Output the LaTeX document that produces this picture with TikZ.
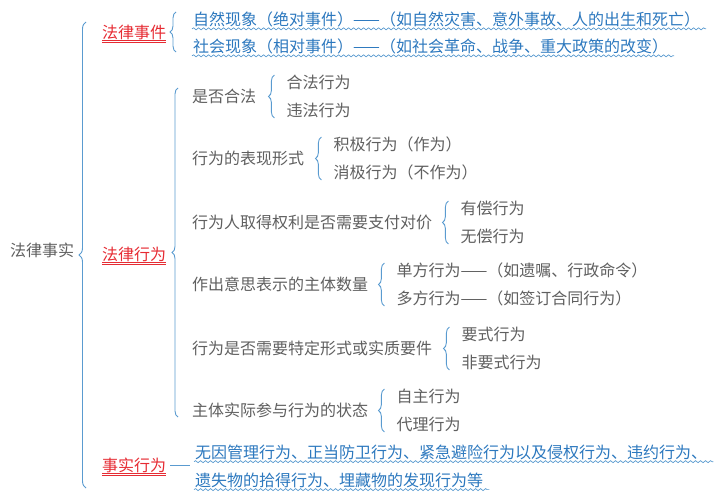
\documentclass[tikz,border=0pt]{standalone}
\usepackage{fontspec}
\setmainfont{Noto Sans CJK SC}
\usetikzlibrary{decorations.pathreplacing,decorations.pathmorphing,calc}
\definecolor{gtext}{HTML}{5F5F5F}
\definecolor{btext}{HTML}{2C78BE}
\definecolor{rtext}{HTML}{E62B33}
\definecolor{bline}{HTML}{5A9BD0}
\begin{document}
\begin{tikzpicture}[x=1pt,y=-1pt,
  every node/.style={inner sep=0pt,anchor=west,font=\fontsize{16}{19}\selectfont},
  gnode/.style={text=gtext},
  bnode/.style={text=btext},
  rnode/.style={text=rtext},
  br/.style={draw=bline,line width=0.9pt,decorate,decoration={brace,amplitude=6pt}},
  bigbr/.style={draw=bline,line width=0.9pt,decorate,decoration={brace,amplitude=7pt}},
  wavy/.style={draw=bline,line width=0.7pt,decorate,decoration={snake,segment length=5pt,amplitude=1pt}},
  dbl/.style={draw=rtext,line width=0.8pt},
  link/.style={draw=bline,line width=0.9pt}]
\useasboundingbox (0,0) rectangle (717,500);

% root and main branches
\node[gnode] (root) at (10,250) {法律事实};
\node[rnode] (ev) at (102,32) {法律事件};
\node[rnode] (act) at (102,254) {法律行为};
\node[rnode] (fact) at (102,465) {事实行为};
\draw[bigbr] ($(fact.west)+(-16,23)$) -- ($(ev.west)+(-16,-10)$);
\foreach \n in {ev,act,fact}{
  \draw[dbl] ($(\n.south west)+(0,1.2)$) -- ($(\n.south east)+(0,1.2)$);
  \draw[dbl] ($(\n.south west)+(0,3.2)$) -- ($(\n.south east)+(0,3.2)$);
}

% legal events
\node[bnode] (ev1) at (193,19) {自然现象（绝对事件）——（如自然灾害、意外事故、人的出生和死亡）};
\node[bnode] (ev2) at (193,46) {社会现象（相对事件）——（如社会革命、战争、重大政策的改变）};
\draw[br] ($(ev2.west)+(-17,6)$) -- ($(ev1.west)+(-17,-7)$);
\foreach \n in {ev1,ev2}{
  \draw[wavy] ($(\n.south west)+(-1,2)$) -- ($(\n.south east)+(6,2)$);
}

% legal acts
\node[gnode] (s1) at (192,96) {是否合法};
\node[gnode] (s2) at (192,158) {行为的表现形式};
\node[gnode] (s3) at (192,222) {行为人取得权利是否需要支付对价};
\node[gnode] (s4) at (192,284) {作出意思表示的主体数量};
\node[gnode] (s5) at (192,348) {行为是否需要特定形式或实质要件};
\node[gnode] (s6) at (192,410) {主体实际参与行为的状态};
\draw[br] ($(s6.west)+(-14,7)$) -- ($(s1.west)+(-14,-8)$);

\node[gnode] (s1a) at ($(s1.east)+(30,-14)$) {合法行为};
\node[gnode] (s1b) at ($(s1.east)+(30,14)$) {违法行为};
\node[gnode] (s2a) at ($(s2.east)+(29,-14)$) {积极行为（作为）};
\node[gnode] (s2b) at ($(s2.east)+(29,14)$) {消极行为（不作为）};
\node[gnode] (s3a) at ($(s3.east)+(28,-14)$) {有偿行为};
\node[gnode] (s3b) at ($(s3.east)+(28,14)$) {无偿行为};
\node[gnode] (s4a) at ($(s4.east)+(28,-14)$) {单方行为——（如遗嘱、行政命令）};
\node[gnode] (s4b) at ($(s4.east)+(28,14)$) {多方行为——（如签订合同行为）};
\node[gnode] (s5a) at ($(s5.east)+(29,-14)$) {要式行为};
\node[gnode] (s5b) at ($(s5.east)+(29,14)$) {非要式行为};
\node[gnode] (s6a) at ($(s6.east)+(28,-14)$) {自主行为};
\node[gnode] (s6b) at ($(s6.east)+(28,14)$) {代理行为};
\foreach \p in {s1,s2,s3,s4,s5,s6}{
  \draw[br] ($(\p b.west)+(-12,8)$) -- ($(\p a.west)+(-12,-7)$);
}

% factual acts
\node[bnode] (f1) at (195,452) {无因管理行为、正当防卫行为、紧急避险行为以及侵权行为、违约行为、};
\node[bnode] (f2) at (195,480) {遗失物的拾得行为、埋藏物的发现行为等};
\coordinate (fj) at ($(f1.west)!0.5!(f2.west)+(-5,-1)$);
\draw[link] ($(fact.east)+(4,0)$) -- (fj);
\foreach \n in {f1,f2}{
  \draw[wavy] ($(\n.south west)+(-1,2)$) -- ($(\n.south east)+(6,2)$);
}
\end{tikzpicture}
\end{document}
